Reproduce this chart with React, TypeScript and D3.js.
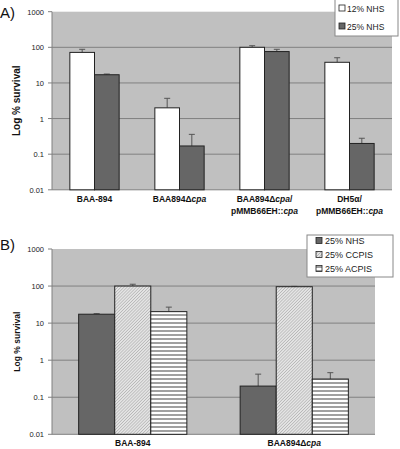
import React from "react";
import * as d3 from "d3";

const catsA = ["BAA-894", "BAA894Δcpa", "BAA894Δcpa/pMMB66EH::cpa", "DH5α/pMMB66EH::cpa"];
const seriesA = ["12% NHS", "25% NHS"];
const valsA12 = [72, 2.0, 100, 38];
const errA12 = [88, 3.7, 111, 51];
const valsA25 = [17, 0.17, 76, 0.2];
const errA25 = [17.8, 0.36, 88, 0.28];

const catsB = ["BAA-894", "BAA894Δcpa"];
const seriesB = ["25% NHS", "25% CCPIS", "25% ACPIS"];
const valsNHS = [17.4, 0.2];
const errNHS = [18, 0.42];
const valsCC = [100, 96];
const errCC = [112, 98];
const valsAC = [20.4, 0.31];
const errAC = [27, 0.46];

const yTicks = [1000, 100, 10, 1, 0.1, 0.01];
const yTickLabels = ["1000", "100", "10", "1", "0.1", "0.01"];

const FONT = "Liberation Sans, Arial, sans-serif";
const BG = "#c0c0c0";
const DARK = "#666666";
const GRID = "#808080";

function Label({ text, x, y }: { text: string; x: number; y: number }) {
  const parts = text.includes("/") ? [text.split("/")[0] + "/", text.split("/")[1]] : [text];
  return (
    <text x={x} y={y} textAnchor="middle" fontFamily={FONT} fontSize={8.5} fontWeight="bold" fill="#111">
      {parts.map((line, i) => {
        const m = line.match(/^(.*?)(cpa)(\/?)$/);
        return (
          <tspan key={i} x={x} dy={i === 0 ? 0 : 12}>
            {m ? (
              <>
                {m[1]}
                <tspan fontStyle="italic">{m[2]}</tspan>
                {m[3]}
              </>
            ) : (
              line
            )}
          </tspan>
        );
      })}
    </text>
  );
}

function YAxis({ y, left, right }: { y: d3.ScaleLogarithmic<number, number>; left: number; right: number }) {
  return (
    <g>
      {yTicks.map((t, i) => (
        <g key={t}>
          {i > 0 && i < yTicks.length - 1 && (
            <line x1={left} x2={right} y1={y(t)} y2={y(t)} stroke={GRID} strokeWidth={1} />
          )}
          <line x1={left - 4} x2={left} y1={y(t)} y2={y(t)} stroke={GRID} />
          <text x={left - 8} y={y(t) + 3} textAnchor="end" fontFamily={FONT} fontSize={7.5} fill="#222">
            {yTickLabels[i]}
          </text>
        </g>
      ))}
    </g>
  );
}

function ErrBar({ x, y0, y1 }: { x: number; y0: number; y1: number }) {
  return (
    <g stroke="#555" strokeWidth={1}>
      <line x1={x} x2={x} y1={y0} y2={y1} />
      <line x1={x - 3} x2={x + 3} y1={y1} y2={y1} />
    </g>
  );
}

export default function App() {
  const aLeft = 52, aRight = 392, aTop = 11.7, aBottom = 189.8;
  const yA = d3.scaleLog().domain([0.01, 1000]).range([aBottom, aTop]);
  const xA = d3.scaleBand<string>().domain(catsA).range([aLeft, aRight]).paddingInner(0.42).paddingOuter(0.21);
  const xAs = d3.scaleBand<string>().domain(seriesA).range([0, xA.bandwidth()]);

  const bLeft = 52, bRight = 375, bTop = 249, bBottom = 434.3;
  const yB = d3.scaleLog().domain([0.01, 1000]).range([bBottom, bTop]);
  const xB = d3.scaleBand<string>().domain(catsB).range([bLeft, bRight]).paddingInner(0.33).paddingOuter(0.165);
  const xBs = d3.scaleBand<string>().domain(seriesB).range([0, xB.bandwidth()]);

  const aSeries = [
    { name: seriesA[0], vals: valsA12, errs: errA12, fill: "#ffffff" },
    { name: seriesA[1], vals: valsA25, errs: errA25, fill: DARK },
  ];
  const bSeries = [
    { name: seriesB[0], vals: valsNHS, errs: errNHS, fill: DARK },
    { name: seriesB[1], vals: valsCC, errs: errCC, fill: "url(#diag)" },
    { name: seriesB[2], vals: valsAC, errs: errAC, fill: "url(#horiz)" },
  ];

  return (
    <svg width={400} height={449} style={{ position: "absolute", left: 0, top: 0, background: "#fff" }}>
      <defs>
        <pattern id="diag" width={2.2} height={2.2} patternUnits="userSpaceOnUse" patternTransform="rotate(45)">
          <rect width={2.2} height={2.2} fill="#e4e4e4" />
          <line x1={0} y1={0} x2={0} y2={2.2} stroke="#9a9a9a" strokeWidth={0.9} />
        </pattern>
        <pattern id="horiz" width={4} height={4} patternUnits="userSpaceOnUse">
          <rect width={4} height={4} fill="#ffffff" />
          <rect y={2} width={4} height={2} fill="#a0a0a0" />
        </pattern>
      </defs>

      {/* Panel A */}
      <text x={0} y={18} fontFamily={FONT} fontSize={15} fill="#111">A)</text>
      <rect x={aLeft} y={aTop} width={aRight - aLeft} height={aBottom - aTop} fill={BG} />
      <YAxis y={yA} left={aLeft} right={aRight} />
      <line x1={aLeft} x2={aLeft} y1={aTop} y2={aBottom} stroke={GRID} />
      <line x1={aLeft} x2={aRight} y1={aBottom} y2={aBottom} stroke={GRID} />
      <text transform={`translate(20,${(aTop + aBottom) / 2}) rotate(-90)`} textAnchor="middle" fontFamily={FONT} fontSize={10} fontWeight="bold" fill="#111">
        Log % survival
      </text>
      {catsA.map((c, i) => (
        <g key={c}>
          {aSeries.map((s) => {
            const x = (xA(c) ?? 0) + (xAs(s.name) ?? 0);
            const w = xAs.bandwidth();
            return (
              <g key={s.name}>
                <ErrBar x={x + w / 2} y0={yA(s.vals[i])} y1={yA(s.errs[i])} />
                <rect x={x} y={yA(s.vals[i])} width={w} height={aBottom - yA(s.vals[i])} fill={s.fill} stroke="#222" strokeWidth={1} />
              </g>
            );
          })}
          <Label text={c} x={(xA(c) ?? 0) + xA.bandwidth() / 2} y={202} />
        </g>
      ))}
      <rect x={335} y={-1} width={63} height={37} fill="#fff" stroke="#888" />
      {aSeries.map((s, i) => (
        <g key={s.name}>
          <rect x={339} y={5 + i * 18} width={6} height={6} fill={s.fill} stroke="#222" strokeWidth={0.8} />
          <text x={347} y={11.5 + i * 18} fontFamily={FONT} fontSize={8.5} fill="#222">{s.name}</text>
        </g>
      ))}

      {/* Panel B */}
      <text x={0} y={250} fontFamily={FONT} fontSize={15} fill="#111">B)</text>
      <rect x={bLeft} y={bTop} width={bRight - bLeft} height={bBottom - bTop} fill={BG} />
      <YAxis y={yB} left={bLeft} right={bRight} />
      <line x1={bLeft} x2={bLeft} y1={bTop} y2={bBottom} stroke={GRID} />
      <line x1={bLeft} x2={bRight} y1={bBottom} y2={bBottom} stroke={GRID} />
      <text transform={`translate(20,${(bTop + bBottom) / 2}) rotate(-90)`} textAnchor="middle" fontFamily={FONT} fontSize={8.5} fontWeight="bold" fill="#111">
        Log % survival
      </text>
      {catsB.map((c, i) => (
        <g key={c}>
          {bSeries.map((s) => {
            const x = (xB(c) ?? 0) + (xBs(s.name) ?? 0);
            const w = xBs.bandwidth();
            return (
              <g key={s.name}>
                <ErrBar x={x + w / 2} y0={yB(s.vals[i])} y1={yB(s.errs[i])} />
                <rect x={x} y={yB(s.vals[i])} width={w} height={bBottom - yB(s.vals[i])} fill={s.fill} stroke="#222" strokeWidth={1} />
              </g>
            );
          })}
          <Label text={c} x={(xB(c) ?? 0) + xB.bandwidth() / 2} y={446} />
        </g>
      ))}
      <rect x={307} y={235} width={86} height={42} fill="#fff" stroke="#888" />
      {bSeries.map((s, i) => (
        <g key={s.name}>
          <rect x={316} y={237.5 + i * 14} width={6} height={6} fill={s.fill} stroke="#222" strokeWidth={0.8} />
          <text x={325} y={244 + i * 14} fontFamily={FONT} fontSize={9} fill="#222">{s.name}</text>
        </g>
      ))}
    </svg>
  );
}
